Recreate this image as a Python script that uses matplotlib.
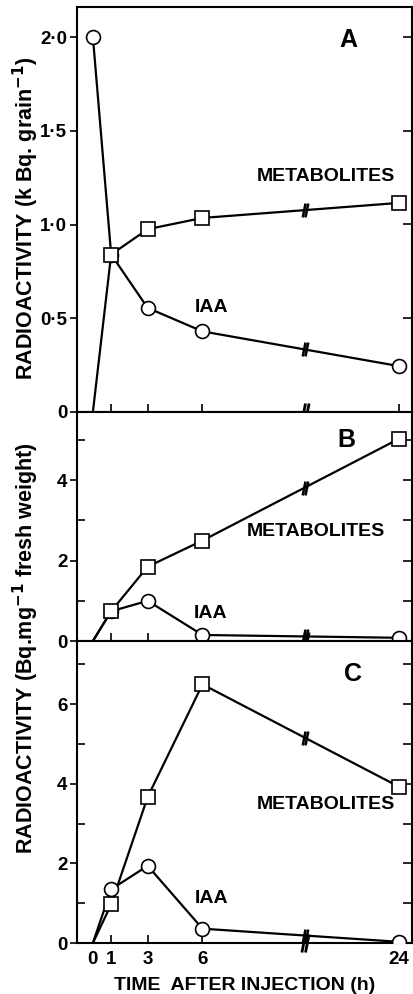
import numpy as np
import matplotlib
matplotlib.use("Agg")
from matplotlib import pyplot as plt
from matplotlib.path import Path

plt.rcParams['font.family'] = ['Liberation Sans', 'DejaVu Sans']
plt.rcParams['font.weight'] = 'bold'

# dati
ore = [0, 1, 3, 6, 24]
A_iaa = [2.0, 0.84, 0.555, 0.43, 0.245]
A_met = [0.0, 0.84, 0.975, 1.035, 1.115]
B_iaa = [0.0, 0.74, 1.0, 0.15, 0.08]
B_met = [0.0, 0.74, 1.85, 2.5, 5.03]
C_iaa = [0.0, 1.35, 1.94, 0.36, 0.03]
C_met = [0.0, 0.97, 3.67, 6.5, 3.93]
xtick_ore = [0, 1, 3, 6, 24]


def xpos(t):
    # asse spezzato: lineare fino a 6 h, compresso dopo
    t = np.asarray(t, dtype=float)
    return np.where(t <= 6, t, 6 + (t - 6) * 0.597)


X_BREAK = 11.6
rottura = Path([(-0.4, -1), (0.0, 1), (0.0, -1), (0.4, 1)],
               [Path.MOVETO, Path.LINETO, Path.MOVETO, Path.LINETO])

fig = plt.figure(figsize=(4.14, 9.94), dpi=100)
W, H = 414.0, 994.0
left, right = 77 / W, 412.5 / W
bordi = [7, 412, 641, 943]
pannelli = [
    (A_iaa, A_met, 2.16, [0, 0.5, 1.0, 1.5, 2.0], ['0', '0·5', '1·0', '1·5', '2·0'], [], 'A'),
    (B_iaa, B_met, 5.7, [0, 2, 4], ['0', '2', '4'], [1, 3, 5], 'B'),
    (C_iaa, C_met, 7.59, [0, 2, 4, 6], ['0', '2', '4', '6'], [1, 3, 5, 7], 'C'),
]
etichette = [
    ((0.742, 0.581), (0.402, 0.257)),
    ((0.713, 0.477), (0.399, 0.12)),
    ((0.742, 0.46), (0.4, 0.149)),
]
lettere = [(0.81, 0.918), (0.804, 0.877), (0.823, 0.89)]

axes = []
for i, (iaa, met, ymax, yt, ytl, ymin_t, lett) in enumerate(pannelli):
    top, bot = bordi[i], bordi[i + 1]
    ax = fig.add_axes([left, 1 - bot / H, right - left, (bot - top) / H])
    axes.append(ax)
    xs = xpos(ore)
    for serie, mk in ((iaa, 'o'), (met, 's')):
        ax.plot(xs, serie, '-', color='black', lw=1.6, zorder=2)
        ax.plot(xs[1:], serie[1:], ls='none', marker=mk, ms=10 if mk == 'o' else 9.5,
                mfc='white', mec='black', mew=1.2, zorder=3)
        yb = np.interp(X_BREAK, xs, serie)
        ax.plot([X_BREAK], [yb], ls='none', marker=rottura, ms=10, mec='black',
                mew=1.8, zorder=4)
    if i == 0:
        ax.plot(xs[:1], iaa[:1], ls='none', marker='o', ms=10, mfc='white',
                mec='black', mew=1.2, zorder=3)
    ax.plot([X_BREAK], [0], ls='none', marker=rottura, ms=13, mec='black',
            mew=2.0, clip_on=False, zorder=5)

    ax.set_xlim(-0.87, 17.5)
    ax.set_ylim(0, ymax)
    ax.set_yticks(yt)
    ax.set_yticklabels(ytl, fontsize=13.5, fontweight='bold')
    ax.set_yticks(ymin_t, minor=True)
    ax.tick_params(axis='y', which='major', direction='out', length=5, width=1.2,
                   pad=2)
    ax.tick_params(axis='y', which='minor', direction='in', length=6, width=1.2)
    ax2 = ax.secondary_yaxis('right')
    ax2.set_yticks(sorted(list(yt) + list(ymin_t)))
    ax2.tick_params(direction='in', length=7, width=1.2, labelright=False)
    ax.set_xticks(xpos([t for t in xtick_ore if t > 0]))
    ax.tick_params(axis='x', direction='in', length=6, width=1.2)
    if i < 2:
        ax.set_xticklabels([])
    for s in ax.spines.values():
        s.set_linewidth(1.5)

    (mx, my), (ix, iy) = etichette[i]
    ax.text(mx, my, 'METABOLITES', transform=ax.transAxes, fontsize=14,
            fontweight='bold', ha='center', va='center')
    ax.text(ix, iy, 'IAA', transform=ax.transAxes, fontsize=14,
            fontweight='bold', ha='center', va='center')
    ax.text(lettere[i][0], lettere[i][1], lett, transform=ax.transAxes,
            fontsize=18, fontweight='bold', ha='center', va='center')

ax = axes[2]
ax.set_xticks(xpos(xtick_ore))
ax.set_xticklabels([str(t) for t in xtick_ore], fontsize=13.5, fontweight='bold')
ax.tick_params(axis='x', direction='in', length=6, width=1.2, pad=6)
ax.xaxis.get_major_ticks()[0].tick1line.set_visible(False)

fig.text(245 / W, 1 - 985 / H, 'TIME  AFTER INJECTION (h)', fontsize=14,
         fontweight='bold', ha='center', va='center')
fig.text(26 / W, 1 - 218 / H, 'RADIOACTIVITY (k Bq. grain$^{\\mathbf{-1}}$)',
         rotation=90, fontsize=15.5, fontweight='bold', ha='center', va='center')
fig.text(26 / W, 1 - 648 / H, 'RADIOACTIVITY (Bq.mg$^{\\mathbf{-1}}$ fresh weight)',
         rotation=90, fontsize=15.5, fontweight='bold', ha='center', va='center')

fig.savefig('out.png', dpi=100)
